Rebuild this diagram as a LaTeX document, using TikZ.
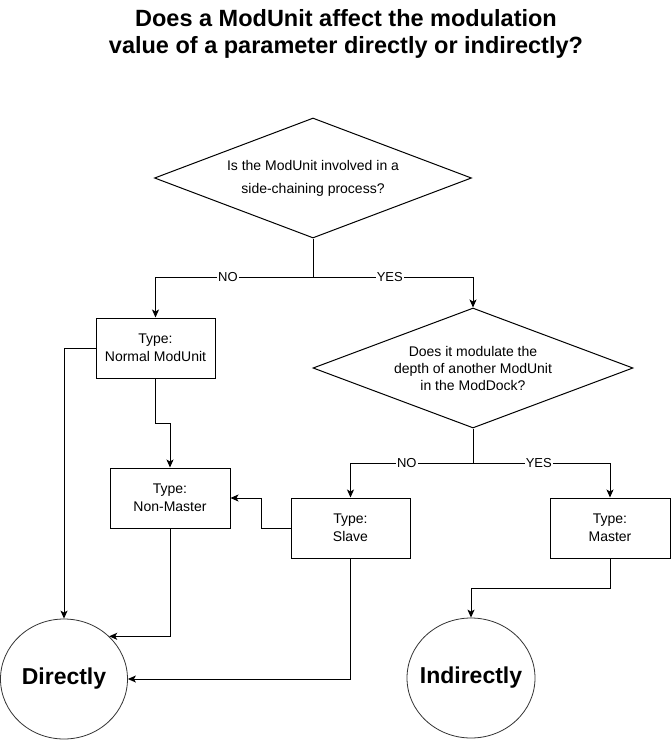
\documentclass[tikz,border=0pt]{standalone}
\usepackage{fontspec}
\setmainfont{Liberation Sans}
\usetikzlibrary{shapes.geometric,arrows.meta,calc}
\tikzset{
  box/.style={draw, line width=1pt, minimum width=119pt, minimum height=60pt, inner sep=0pt, align=center, font=\fontsize{14}{18}\selectfont},
  decision/.style={draw, diamond, line width=1pt, inner sep=0pt, align=center},
  endpt/.style={draw=black!80, ellipse, line width=0.8pt, minimum width=127pt, minimum height=120pt, inner xsep=-30pt, inner ysep=0pt, font=\fontsize{23}{27}\selectfont\bfseries},
  arr/.style={line width=1pt, -{Stealth[length=8pt,width=7pt,inset=2pt]}},
  plain/.style={line width=1pt},
  lbl/.style={fill=white, inner sep=1pt, font=\fontsize{13}{15}\selectfont},
  ttl/.style={align=center, font=\fontsize{23.5}{27}\selectfont\bfseries}
}
\begin{document}
\begin{tikzpicture}[x=1pt,y=-1pt]
\useasboundingbox[fill=white] (0,0) rectangle (672,742);

\node[ttl] (title) at (346,33.5) {Does a ModUnit affect the modulation\\value of a parameter directly or indirectly?};

\node[decision, aspect=2.64, minimum width=317pt, minimum height=120pt, font=\fontsize{14}{23}\selectfont] (d1) at (313,178) {Is the ModUnit involved in a\\side-chaining process?};
\node[decision, aspect=2.67, minimum width=320pt, minimum height=120pt, font=\fontsize{14}{17}\selectfont] (d2) at (473,368) {Does it modulate the\\depth of another ModUnit\\in the ModDock?};

\node[box] (nm) at (155.5,348) {Type:\\Normal ModUnit};
\node[box, minimum width=120pt] (nms) at (170,498) {Type:\\Non-Master};
\node[box] (sl) at (350.5,528) {Type:\\Slave};
\node[box, minimum width=120pt] (ms) at (610,528) {Type:\\Master};

\node[endpt] (dir) at (64,679) {Directly};
\node[endpt, minimum width=128pt] (ind) at (471,678) {Indirectly};

\coordinate (s1) at (313,277);
\coordinate (s2) at (473,463);
\coordinate (k1) at (0,423);
\coordinate (k2) at (261,0);
\coordinate (k3) at (0,588);

\draw[plain] (d1.south) -- (s1);
\draw[arr] (s1) -| node[lbl, pos=0.27] {NO} (nm.north);
\draw[arr] (s1) -| node[lbl, pos=0.24] {YES} (d2.north);

\draw[plain] (d2.south) -- (s2);
\draw[arr] (s2) -| node[lbl, pos=0.27] {NO} (sl.north);
\draw[arr] (s2) -| node[lbl, pos=0.24] {YES} (ms.north);

\draw[arr] (nm.west) -| (dir.north);
\draw[arr] (nm.south) |- (nms.north |- k1) -- (nms.north);
\draw[arr] (sl.west) -| (k2 |- nms.east) -- (nms.east);
\draw[arr] (nms.south) |- (dir.north east);
\draw[arr] (sl.south) |- (dir.east);
\draw[arr] (ms.south) |- (ind.north |- k3) -- (ind.north);
\end{tikzpicture}
\end{document}
